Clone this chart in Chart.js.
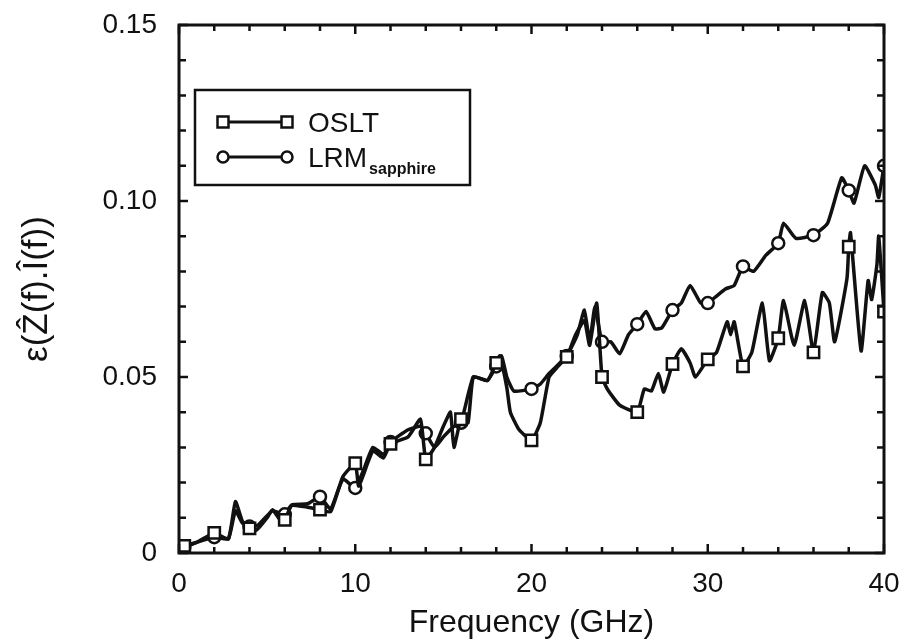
<!DOCTYPE html>
<html>
<head>
<meta charset="utf-8">
<script src="https://cdn.jsdelivr.net/npm/chart.js@4/dist/chart.umd.min.js"></script>
<style>
  html, body { margin: 0; padding: 0; background: #fff; }
  #wrap { width: 904px; height: 642px; }
</style>
</head>
<body>
<div id="wrap"><canvas id="chart"></canvas></div>
<script>
// error metric vs frequency, OSLT calibration
const oslFreq = [0, 0.3, 1, 2, 2.8, 3.2, 3.6, 4, 4.4, 5, 5.3, 5.8, 6, 6.4, 7.3, 8, 8.6, 9.3, 10, 10.2,
  11, 11.6, 12, 13, 13.7, 14, 14.5, 15, 15.4, 15.6, 16, 16.4, 16.7, 17.5, 18, 18.2, 18.6, 18.8, 19.3, 20,
  20.5, 21, 21.5, 22, 22.5, 23, 23.3, 23.7, 24, 24.3, 25, 26, 26.4, 26.8, 27.2, 27.5, 28, 28.5, 29, 29.3,
  30, 30.5, 31.1, 31.3, 31.5, 32, 32.5, 33.1, 33.5, 34, 34.3, 34.9, 35.5, 36, 36.5, 36.9, 37.2, 37.9, 38, 38.1,
  38.7, 39.1, 39.3, 39.6, 39.7, 40];
const oslVal = [0.0015, 0.002, 0.003, 0.0057, 0.004, 0.0146, 0.009, 0.007, 0.0065, 0.010, 0.0123, 0.009, 0.0094, 0.0135, 0.013, 0.0123, 0.0117, 0.0217, 0.0255, 0.019,
  0.029, 0.027, 0.031, 0.033, 0.038, 0.0266, 0.030, 0.036, 0.040, 0.030, 0.038, 0.037, 0.050, 0.049, 0.054, 0.056, 0.047, 0.040, 0.035, 0.032,
  0.037, 0.050, 0.053, 0.0557, 0.062, 0.066, 0.059, 0.071, 0.050, 0.0466, 0.042, 0.040, 0.0466, 0.046, 0.051, 0.0457, 0.0537, 0.058, 0.054, 0.050,
  0.055, 0.057, 0.0657, 0.062, 0.0657, 0.053, 0.057, 0.071, 0.0546, 0.061, 0.0717, 0.059, 0.0717, 0.057, 0.074, 0.071, 0.060, 0.078, 0.087, 0.091,
  0.0574, 0.0774, 0.072, 0.082, 0.090, 0.0686];

// same metric, LRM calibration on sapphire
const lrmFreq = [0, 0.3, 1, 2, 2.8, 3.2, 3.6, 4, 4.5, 5.3, 5.9, 6, 6.4, 7.3, 8, 8.6, 9.3, 10, 10.5,
  11, 11.6, 12, 13, 13.7, 14, 14.5, 15, 15.6, 16, 16.7, 17.5, 18, 18.3, 18.6, 19, 20,
  20.5, 21, 22, 22.6, 23, 23.3, 23.6, 24, 24.5, 25, 25.5, 26, 26.5, 27, 27.4, 28, 28.5, 29, 29.6,
  30, 30.5, 31, 31.5, 32, 32.6, 33.3, 34, 34.3, 35, 36, 36.8, 37.6, 38, 38.3, 38.9, 39.5, 39.7, 40];
const lrmVal = [0.001, 0.0015, 0.003, 0.0045, 0.004, 0.012, 0.0085, 0.0075, 0.008, 0.012, 0.011, 0.011, 0.0137, 0.014, 0.016, 0.0125, 0.021, 0.0185, 0.024,
  0.030, 0.028, 0.0315, 0.035, 0.036, 0.034, 0.030, 0.033, 0.036, 0.037, 0.050, 0.049, 0.053, 0.056, 0.050, 0.046, 0.0466,
  0.048, 0.051, 0.056, 0.062, 0.069, 0.060, 0.070, 0.060, 0.060, 0.0566, 0.062, 0.065, 0.0686, 0.0637, 0.064, 0.069, 0.071, 0.076, 0.071,
  0.071, 0.073, 0.075, 0.076, 0.0814, 0.080, 0.0846, 0.088, 0.0937, 0.0894, 0.0903, 0.0937, 0.1066, 0.103, 0.0994, 0.110, 0.1046, 0.101, 0.110];

// symbols are drawn every 2 GHz
const markFreqs = [0.3, 2, 4, 6, 8, 10, 12, 14, 16, 18, 20, 22, 24, 26, 28, 30, 32, 34, 36, 38, 40];
const xLabels = [0, 10, 20, 30, 40];
const yLabels = [0, 0.05, 0.10, 0.15];

const INK = '#111';
const FONT = "'Liberation Sans', Arial, sans-serif";

function toPoints(xs, ys) { return xs.map((x, i) => ({ x: x, y: ys[i] })); }
const isMark = c => c.raw && markFreqs.includes(c.raw.x);
const isLabelX = v => xLabels.some(l => Math.abs(l - v) < 1e-6);
const isLabelY = v => yLabels.some(l => Math.abs(l - v) < 1e-6);

// inward tick marks on all four sides plus the frame
const frameTicks = {
  id: 'frameTicks',
  afterDraw(chart) {
    const { ctx, chartArea: a, scales: { x, y } } = chart;
    ctx.save();
    ctx.strokeStyle = INK;
    ctx.lineWidth = 2.5;
    x.ticks.forEach(t => {
      const px = x.getPixelForValue(t.value);
      const len = isLabelX(t.value) ? 9 : 6;
      ctx.beginPath();
      ctx.moveTo(px, a.bottom); ctx.lineTo(px, a.bottom - len);
      ctx.moveTo(px, a.top); ctx.lineTo(px, a.top + len);
      ctx.stroke();
    });
    y.ticks.forEach(t => {
      const py = y.getPixelForValue(t.value);
      const len = isLabelY(t.value) ? 9 : 7;
      ctx.beginPath();
      ctx.moveTo(a.left, py); ctx.lineTo(a.left + len, py);
      ctx.moveTo(a.right, py); ctx.lineTo(a.right - len, py);
      ctx.stroke();
    });
    ctx.lineWidth = 3;
    ctx.strokeRect(a.left, a.top, a.right - a.left, a.bottom - a.top);
    ctx.restore();
  }
};

// boxed legend inside the plot, upper left
const boxLegend = {
  id: 'boxLegend',
  afterDraw(chart) {
    const { ctx, chartArea: a } = chart;
    const bx = a.left + 16, by = a.top + 65, bw = 275, bh = 95;
    ctx.save();
    ctx.fillStyle = '#fff';
    ctx.fillRect(bx, by, bw, bh);
    ctx.strokeStyle = INK;
    ctx.lineWidth = 2.5;
    ctx.strokeRect(bx, by, bw, bh);

    chart.data.datasets.forEach((ds, i) => {
      const ly = by + 32 + i * 35;
      const x0 = bx + 28, x1 = bx + 92;
      ctx.lineWidth = 3;
      ctx.beginPath(); ctx.moveTo(x0, ly); ctx.lineTo(x1, ly); ctx.stroke();
      [x0, x1].forEach(px => {
        ctx.lineWidth = 2.5;
        ctx.fillStyle = '#fff';
        ctx.beginPath();
        if (ds.pointStyle === 'rect') ctx.rect(px - 5.5, ly - 5.5, 11, 11);
        else ctx.arc(px, ly, 5.5, 0, Math.PI * 2);
        ctx.fill(); ctx.stroke();
      });
      ctx.fillStyle = INK;
      ctx.textBaseline = 'alphabetic';
      ctx.font = '28px ' + FONT;
      ctx.fillText(ds.label, bx + 113, ly + 10);
      if (ds.sub) {
        const w = ctx.measureText(ds.label).width;
        ctx.font = 'bold 16px ' + FONT;
        ctx.fillText(ds.sub, bx + 115 + w, ly + 17);
      }
    });
    ctx.restore();
  }
};

new Chart(document.getElementById('chart'), {
  type: 'line',
  data: {
    datasets: [
      {
        label: 'OSLT',
        data: toPoints(oslFreq, oslVal),
        borderColor: INK, borderWidth: 3.5,
        pointStyle: 'rect',
        pointRadius: c => isMark(c) ? 8 : 0,
        pointBackgroundColor: '#fff', pointBorderColor: INK, pointBorderWidth: 2.5,
        tension: 0.15
      },
      {
        label: 'LRM',
        sub: 'sapphire',
        data: toPoints(lrmFreq, lrmVal),
        borderColor: INK, borderWidth: 3.5,
        pointStyle: 'circle',
        pointRadius: c => isMark(c) ? 6 : 0,
        pointBackgroundColor: '#fff', pointBorderColor: INK, pointBorderWidth: 2.5,
        tension: 0.15
      }
    ]
  },
  options: {
    responsive: true, maintainAspectRatio: false, animation: false,
    layout: { padding: { top: 25, right: 20, left: 0, bottom: 0 } },
    plugins: { legend: { display: false }, tooltip: { enabled: false } },
    scales: {
      x: {
        type: 'linear', min: 0, max: 40,
        afterFit: s => { s.height = 89; s.paddingLeft = 0; s.paddingRight = 0; },
        grid: { display: false, drawTicks: false },
        border: { display: false },
        ticks: {
          stepSize: 2, autoSkip: false, maxRotation: 0, padding: 14,
          color: INK, font: { size: 28, family: FONT },
          callback: v => isLabelX(v) ? String(v) : ''
        },
        title: {
          display: true, text: 'Frequency (GHz)', color: INK,
          font: { size: 32, family: FONT }, padding: { top: 0, bottom: 0 }
        }
      },
      y: {
        min: 0, max: 0.15,
        afterFit: s => { s.width = 179; s.paddingTop = 0; s.paddingBottom = 0; },
        grid: { display: false, drawTicks: false },
        border: { display: false },
        ticks: {
          stepSize: 0.01, autoSkip: false, padding: 22,
          color: INK, font: { size: 28, family: FONT },
          callback: v => isLabelY(v) ? (Math.abs(v) < 1e-9 ? '0' : v.toFixed(2)) : ''
        },
        title: {
          display: true, text: 'ε(Ẑ(f).Î(f))', color: INK,
          font: { size: 35, family: FONT }, padding: { top: 16, bottom: 0 }
        }
      }
    }
  },
  plugins: [frameTicks, boxLegend]
});
</script>
</body>
</html>
